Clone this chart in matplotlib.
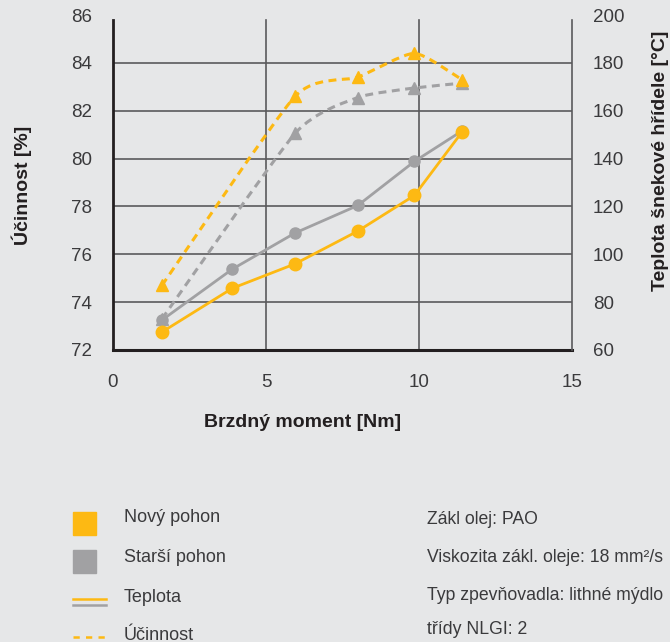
import numpy as np
import matplotlib.pyplot as plt
from matplotlib.path import Path
from matplotlib.patches import PathPatch, Rectangle
from matplotlib.lines import Line2D

# braking torque [Nm]
torque = [1.6, 3.9, 5.95, 8.0, 9.85, 11.4]
torque_eff = [1.6, 5.95, 8.0, 9.85, 11.4]

# shaft temperature [degC]
temp_new = [67.5, 85.8, 96.0, 109.7, 124.6, 151.0]
temp_old = [72.5, 93.8, 108.9, 120.4, 138.8, 151.5]

# efficiency [%]
eff_new = [74.7, 82.6, 83.4, 84.4, 83.3]
eff_old = [73.3, 81.05, 82.55, 82.95, 83.15]

xticks = [0, 5, 10, 15]
eff_ticks = [72, 74, 76, 78, 80, 82, 84, 86]
temp_ticks = [60, 80, 100, 120, 140, 160, 180, 200]

legend_labels = ["Nový pohon", "Starší pohon", "Teplota", "Účinnost"]
notes = ["Zákl olej: PAO",
         "Viskozita zákl. oleje: 18 mm²/s",
         "Typ zpevňovadla: lithné mýdlo",
         "třídy NLGI: 2"]

ORANGE = "#fdb913"
GRAY = "#a1a1a3"
BG = "#e6e7e8"
GRID = "#5a5a5c"
TXT = "#3a3a3c"
DARK = "#231f20"

plt.rcParams['font.family'] = ['Liberation Sans', 'DejaVu Sans']


def smooth_path(xs, ys, k=0.1):
    """catmull-rom style curve (reduced tension) through the points"""
    pts = np.column_stack([xs, ys]).astype(float)
    ext = np.vstack([pts[0], pts, pts[-1]])
    verts = [pts[0]]
    codes = [Path.MOVETO]
    for i in range(1, len(ext) - 2):
        p0, p1, p2, p3 = ext[i - 1], ext[i], ext[i + 1], ext[i + 2]
        verts += [p1 + (p2 - p0) * k, p2 - (p3 - p1) * k, p2]
        codes += [Path.CURVE4] * 3
    return Path(verts, codes)


fig = plt.figure(figsize=(6.7, 6.42), dpi=100, facecolor=BG)
W, H = 670, 642


def fx(px):
    return px / W


def fy(py):
    return 1 - py / H


ax = fig.add_axes([fx(113), fy(350), fx(572) - fx(113), fy(15) - fy(350)])
ax.set_facecolor(BG)
ax2 = ax.twinx()

ax.set_xlim(0, 15)
ax.set_ylim(72, 86)
ax2.set_ylim(60, 200)

# grid
top = 85.8
for yv in eff_ticks[1:-1]:
    ax.axhline(yv, color=GRID, lw=1.2, zorder=1)
for xv in xticks[1:3]:
    ax.plot([xv, xv], [72, top], color=GRID, lw=1.2, zorder=1)

ax.spines["top"].set_visible(False)
ax2.spines["top"].set_visible(False)
ax2.spines["left"].set_visible(False)
ax2.spines["bottom"].set_visible(False)
ax.spines["right"].set_visible(False)
ax.spines["left"].set_color(DARK)
ax.spines["left"].set_linewidth(2)
ax.spines["left"].set_bounds(72, top)
ax.spines["bottom"].set_color(DARK)
ax.spines["bottom"].set_linewidth(2.2)
ax2.spines["right"].set_color(GRID)
ax2.spines["right"].set_linewidth(1.2)
ax2.spines["right"].set_bounds(60, 198)

ax.set_xticks(xticks)
ax.set_yticks(eff_ticks)
ax2.set_yticks(temp_ticks)
ax.tick_params(axis="both", length=0, labelsize=13.5, labelcolor=TXT)
ax.tick_params(axis="y", pad=15)
ax.tick_params(axis="x", pad=17)
ax2.tick_params(axis="y", length=0, labelsize=13.5, labelcolor=TXT, pad=15)

ax.set_xlabel("Brzdný moment [Nm]", fontsize=14, fontweight="bold", color=DARK)
ax.set_ylabel("Účinnost [%]", fontsize=14, fontweight="bold", color=DARK)
ax2.set_ylabel("Teplota šnekové hřídele [°C]", fontsize=14, fontweight="bold",
               color=DARK, rotation=90)
ax.xaxis.set_label_coords(0.412, -0.19)
ax.yaxis.set_label_coords(-0.176, 0.49)
ax2.yaxis.set_label_coords(1.175, 0.565)

# efficiency curves (dashed, smoothed)
dash = (0, (2.6, 1.8))
for xs, ys, c, z in [(torque_eff, eff_old, GRAY, 3), (torque_eff, eff_new, ORANGE, 4)]:
    patch = PathPatch(smooth_path(xs, ys), facecolor="none", edgecolor=c,
                      lw=2.2, linestyle=dash, zorder=z, transform=ax.transData)
    ax.add_patch(patch)
    ax.plot(xs, ys, linestyle="none", marker="^", ms=9, color=c, zorder=z)

ax.set_zorder(1)
ax2.set_zorder(2)

# temperature lines (solid)
ax2.plot(torque, temp_old, color=GRAY, lw=2, marker="o", ms=8, zorder=5)
ax2.plot(torque, temp_new, color=ORANGE, lw=2, marker="o", ms=9, zorder=6)

# legend
fig.add_artist(Rectangle((fx(73), fy(535)), fx(96) - fx(73), fy(512) - fy(535),
                         transform=fig.transFigure, color=ORANGE))
fig.add_artist(Rectangle((fx(73), fy(573)), fx(96) - fx(73), fy(550) - fy(573),
                         transform=fig.transFigure, color=GRAY))
fig.add_artist(Line2D([fx(73), fx(106)], [fy(599), fy(599)], color=ORANGE, lw=1.8,
                      transform=fig.transFigure))
fig.add_artist(Line2D([fx(73), fx(106)], [fy(605), fy(605)], color=GRAY, lw=1.8,
                      transform=fig.transFigure))
fig.add_artist(Line2D([fx(73), fx(106)], [fy(637), fy(637)], color=ORANGE, lw=1.8,
                      linestyle=(0, (2.5, 2.5)), transform=fig.transFigure))

for lab, py in zip(legend_labels, [517, 557, 597, 635]):
    fig.text(fx(124), fy(py), lab, fontsize=13, color=TXT, va="center", ha="left")

for note, py in zip(notes, [519, 557, 595, 630]):
    fig.text(fx(427), fy(py), note, fontsize=12.7, color=TXT, va="center", ha="left")

fig.savefig("out.png", dpi=100, facecolor=BG)
